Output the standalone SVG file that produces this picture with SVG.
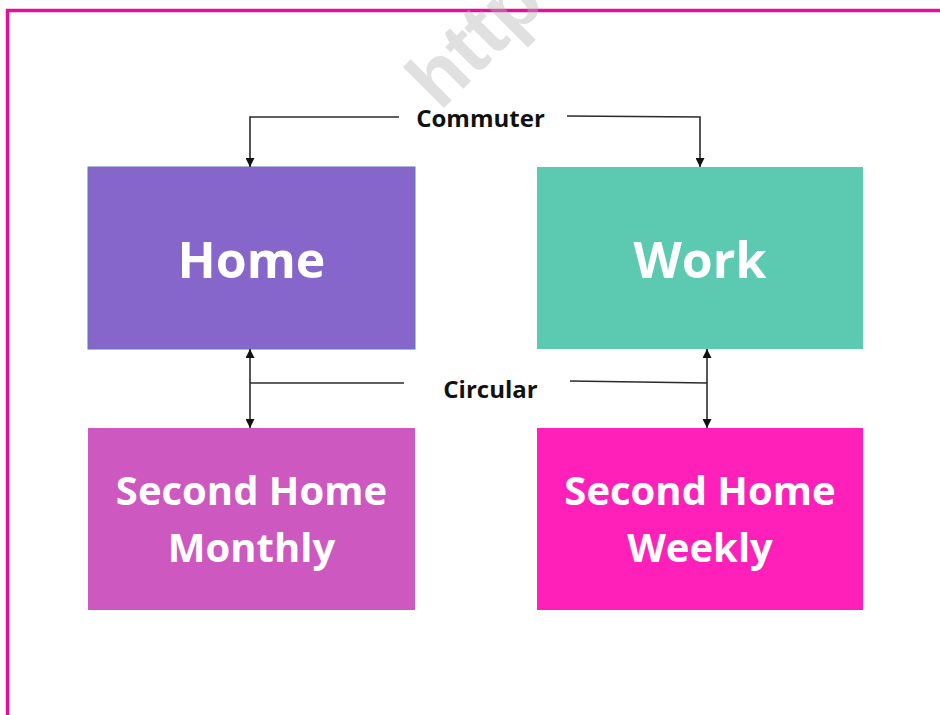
<svg xmlns="http://www.w3.org/2000/svg" width="940" height="715" viewBox="0 0 940 715">
  <defs>
    <style>
      .box-label { font-family: "Open Sans", "Liberation Sans", sans-serif; font-weight: 700; fill: #ffffff; text-anchor: middle; }
      .big { font-size: 50px; }
      .mid { font-size: 40px; }
      .edge-label { font-family: "Open Sans", "Liberation Sans", sans-serif; font-weight: 700; font-size: 24px; fill: #111111; text-anchor: middle; }
      .wire { fill: none; stroke: #2b2b2b; stroke-width: 1.6; }
    </style>
    <marker id="tip" viewBox="0 0 10 10" refX="10" refY="5" markerWidth="9" markerHeight="9" markerUnits="userSpaceOnUse" orient="auto-start-reverse">
      <path d="M0,0 L10,5 L0,10 Z" fill="#111111"/>
    </marker>
  </defs>

  <!-- page background and frame -->
  <rect x="0" y="0" width="940" height="715" fill="#ffffff"/>
  <path d="M7.5,715 V10.5 H940" fill="none" stroke="#e0109c" stroke-width="3.5"/>

  <!-- nodes -->
  <g id="home">
    <rect x="88" y="167" width="327" height="182" fill="#8766cc" stroke="#5a78b8" stroke-width="1"/>
    <text class="box-label big" x="251.5" y="278">Home</text>
  </g>
  <g id="work">
    <rect x="537" y="167" width="326" height="182" fill="#5ccab0"/>
    <text class="box-label big" x="700" y="278">Work</text>
  </g>
  <g id="second-home-monthly">
    <rect x="88" y="428" width="327" height="182" fill="#cc58c0"/>
    <text class="box-label mid" x="251.5" y="505">Second Home</text>
    <text class="box-label mid" x="251.5" y="562">Monthly</text>
  </g>
  <g id="second-home-weekly">
    <rect x="537" y="428" width="326" height="182" fill="#fe20b8"/>
    <text class="box-label mid" x="700" y="505">Second Home</text>
    <text class="box-label mid" x="700" y="562">Weekly</text>
  </g>

  <!-- connectors -->
  <g id="connectors">
    <path class="wire" d="M399,117 H250 V167" marker-end="url(#tip)"/>
    <path class="wire" d="M567,116 L700,117 V167" marker-end="url(#tip)"/>
    <text class="edge-label" x="480.5" y="127">Commuter</text>

    <path class="wire" d="M250,349 V428" marker-start="url(#tip)" marker-end="url(#tip)"/>
    <path class="wire" d="M250,383 H404"/>
    <path class="wire" d="M707,349 V428" marker-start="url(#tip)" marker-end="url(#tip)"/>
    <path class="wire" d="M570,381 L707,383"/>
    <text class="edge-label" x="490.5" y="398">Circular</text>
  </g>

  <!-- faint stamp across the top, running off the page edge -->
  <text x="0" y="0" transform="translate(440,112) rotate(-45)" font-family="'Liberation Sans', Arial, sans-serif" font-weight="700" font-size="80" fill="#b4b4b4" fill-opacity="0.42">http</text>
</svg>
